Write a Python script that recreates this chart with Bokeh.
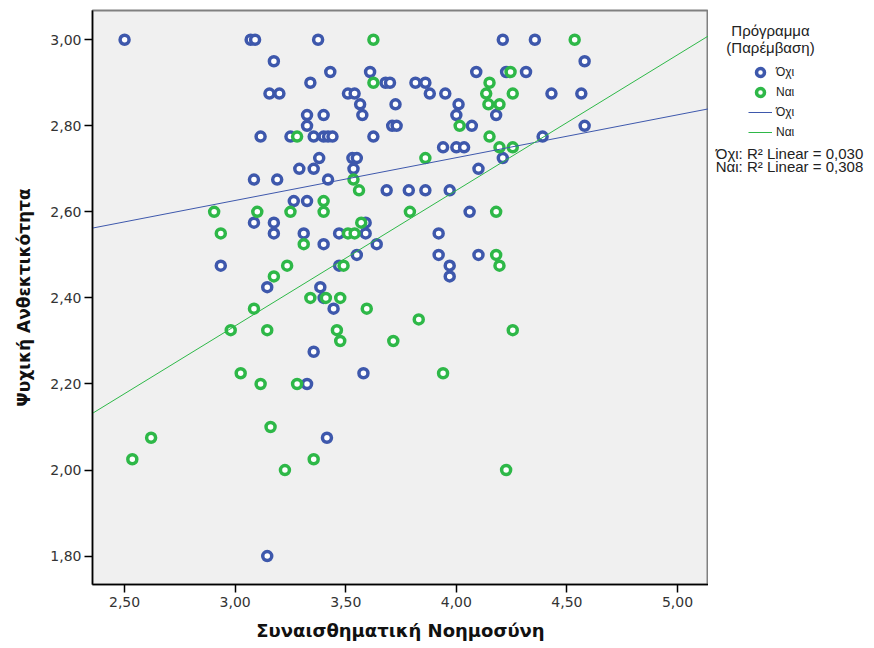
from bokeh.plotting import figure
from bokeh.layouts import row
from bokeh.models import (FixedTicker, CustomJSTickFormatter, Legend, LegendItem, Label)
from bokeh.embed import file_html
from bokeh.resources import INLINE

# ---- data ----
no_x = [2.50, 3.07, 3.09, 3.375, 4.21, 4.355,
        3.175, 4.58,
        3.43, 3.61, 4.09, 4.225, 4.315,
        3.34, 3.68, 3.70, 3.815, 3.86,
        3.155, 3.20, 3.51, 3.54, 3.88, 3.95, 4.43, 4.565,
        3.565, 3.725, 4.01,
        3.325, 3.40, 3.575, 4.00, 4.18,
        3.325, 3.71, 3.73, 4.07, 4.58,
        3.115, 3.25, 3.355, 3.40, 3.42, 3.44, 3.625, 4.39,
        3.94, 4.00, 4.035,
        3.38, 3.53, 3.55, 4.21,
        3.29, 3.355, 3.535, 4.10,
        3.085, 3.19, 3.42,
        3.685, 3.785, 3.86, 3.97,
        3.265, 3.325,
        4.06,
        3.085, 3.175, 3.59,
        3.175, 3.31, 3.47, 3.59, 3.92,
        3.40, 3.64,
        3.55, 3.92, 4.10,
        2.935, 3.47, 3.97,
        3.97,
        3.145, 3.385,
        3.40,
        3.445,
        3.355,
        3.58,
        3.325,
        3.415,
        3.145]
no_y = [3.00] * 6 + [2.95] * 2 + [2.925] * 5 + [2.90] * 5 + [2.875] * 8 + \
       [2.85] * 3 + [2.825] * 5 + [2.80] * 5 + [2.775] * 8 + [2.75] * 3 + \
       [2.725] * 4 + [2.70] * 4 + [2.675] * 3 + [2.65] * 4 + [2.625] * 2 + \
       [2.60] * 1 + [2.575] * 3 + [2.55] * 5 + [2.525] * 2 + [2.50] * 3 + \
       [2.475] * 3 + [2.45] * 1 + [2.425] * 2 + [2.40] * 1 + [2.375] * 1 + \
       [2.275] * 1 + [2.225] * 1 + [2.20] * 1 + [2.075] * 1 + [1.80] * 1

yes_x = [3.625, 4.535,
         4.245,
         3.625, 4.15,
         4.135, 4.255,
         4.145, 4.195,
         4.015,
         3.28, 4.15,
         4.195, 4.255,
         3.86,
         3.535,
         3.56,
         3.40,
         2.905, 3.10, 3.25, 3.40, 3.79, 4.18,
         3.57,
         2.935, 3.51, 3.54,
         3.31,
         4.18,
         3.235, 3.49, 4.195,
         3.175,
         3.34, 3.41, 3.475,
         3.085, 3.595,
         3.83,
         2.98, 3.145, 3.46, 4.255,
         3.475, 3.715,
         3.025, 3.94,
         3.115, 3.28,
         3.16,
         2.62,
         2.535, 3.355,
         3.225, 4.225]
yes_y = [3.00] * 2 + [2.925] * 1 + [2.90] * 2 + [2.875] * 2 + [2.85] * 2 + \
        [2.80] * 1 + [2.775] * 2 + [2.75] * 2 + [2.725] * 1 + [2.675] * 1 + \
        [2.65] * 1 + [2.625] * 1 + [2.60] * 6 + [2.575] * 1 + [2.55] * 3 + \
        [2.525] * 1 + [2.50] * 1 + [2.475] * 3 + [2.45] * 1 + [2.40] * 3 + \
        [2.375] * 2 + [2.35] * 1 + [2.325] * 4 + [2.30] * 2 + [2.225] * 2 + \
        [2.20] * 2 + [2.10] * 1 + [2.075] * 1 + [2.025] * 2 + [2.00] * 2

groups = ["Όχι", "Ναι"]
fit_gradient = [0.0995, 0.315]
fit_intercept = [2.328, 1.390]
r_squared = [0.030, 0.308]

x_ticks = [2.50, 3.00, 3.50, 4.00, 4.50, 5.00]
y_ticks = [1.80, 2.00, 2.20, 2.40, 2.60, 2.80, 3.00]

x_title = "Συναισθηματική Νοημοσύνη"
y_title = "Ψυχική Ανθεκτικότητα"
legend_title = ["Πρόγραμμα", "(Παρέμβαση)"]

# ---- styling ----
BLUE = "#3e58ac"
GREEN = "#2eb848"
FONT = "Liberation Sans"
X_LO, X_HI = 2.355, 5.14
Y_LO, Y_HI = 1.734, 3.068
H = 646
TOP = 10
FH = 574
BOT = H - TOP - FH
NAN = float("nan")

p = figure(frame_width=616, frame_height=FH,
           min_border_left=92, min_border_right=0,
           min_border_top=TOP, min_border_bottom=BOT,
           x_range=(X_LO, X_HI), y_range=(Y_LO, Y_HI),
           output_backend="svg", toolbar_location=None)

p.background_fill_color = "#f0f0f0"
p.border_fill_color = "white"
p.outline_line_color = "#808080"
p.outline_line_width = 2
p.grid.visible = False

fmt = "return tick.toFixed(2).replace('.', ',');"
for ax in (p.xaxis[0], p.yaxis[0]):
    ax.formatter = CustomJSTickFormatter(code=fmt)
    ax.minor_tick_line_color = None
    ax.major_tick_in = 0
    ax.major_tick_out = 8
    ax.major_tick_line_color = "black"
    ax.major_tick_line_width = 1.5
    ax.axis_line_color = "black"
    ax.axis_line_width = 1.5
    ax.major_label_text_font = "DejaVu Sans"
    ax.major_label_text_font_size = "14px"
    ax.major_label_text_color = "#333333"
    ax.axis_label_text_font = "DejaVu Sans"
    ax.axis_label_text_font_style = "bold"
    ax.axis_label_text_color = "#111111"

p.xaxis[0].ticker = FixedTicker(ticks=x_ticks)
p.yaxis[0].ticker = FixedTicker(ticks=y_ticks)
p.xaxis[0].axis_label = x_title
p.yaxis[0].axis_label = y_title
p.xaxis[0].axis_label_text_font_size = "18px"
p.yaxis[0].axis_label_text_font_size = "17px"
p.xaxis[0].major_label_standoff = 4
p.xaxis[0].axis_label_standoff = 10
p.yaxis[0].major_label_standoff = 3
p.yaxis[0].axis_label_standoff = 13

colors = [BLUE, GREEN]
xs_list = [no_x, yes_x]
ys_list = [no_y, yes_y]

for xs, ys, c in zip(xs_list, ys_list, colors):
    p.scatter(xs, ys, marker="circle", size=9, line_width=3.5,
              line_color=c, fill_color="white")

for g, b, c in zip(fit_gradient, fit_intercept, colors):
    lx = [X_LO, X_HI]
    ly = [b + g * v for v in lx]
    p.line(lx, ly, line_color=c, line_width=1)

# ---- legend panel (frame bottom aligned with the plot frame bottom) ----
lg = figure(width=164, height=H, x_range=(0, 1), y_range=(0, 1),
            min_border_left=0, min_border_right=0,
            min_border_top=TOP, min_border_bottom=BOT,
            x_axis_location=None, y_axis_location=None,
            output_backend="svg", toolbar_location=None)
lg.outline_line_color = None
lg.grid.visible = False
lg.background_fill_color = "white"
lg.border_fill_color = "white"

FB = TOP + FH  # frame bottom in page pixels

# legend-only renderers (NaN data: nothing is drawn in the panel itself)
leg_scatter = [lg.scatter(x=[NAN], y=[NAN], marker="circle", size=9, line_width=3.5,
                          line_color=c, fill_color="white") for c in colors]
leg_line = [lg.line(x=[NAN, NAN], y=[NAN, NAN], line_color=c, line_width=1)
            for c in colors]

legend = Legend(items=[LegendItem(label=groups[0], renderers=[leg_scatter[0]]),
                       LegendItem(label=groups[1], renderers=[leg_scatter[1]]),
                       LegendItem(label=groups[0], renderers=[leg_line[0]]),
                       LegendItem(label=groups[1], renderers=[leg_line[1]])],
                location=(40, FB - 142), padding=0, margin=0, spacing=0,
                glyph_width=24, glyph_height=20, label_height=14,
                label_standoff=4, label_text_font=FONT,
                label_text_font_size="12px", label_text_color="#222222",
                background_fill_alpha=0, border_line_alpha=0)
lg.add_layout(legend)

for i, t in enumerate(legend_title):
    lg.add_layout(Label(x=62, y=FB - 30 - 17 * i, x_units="screen", y_units="screen",
                        text=t, text_align="center", text_baseline="middle",
                        text_font=FONT, text_font_size="15px",
                        text_color="#222222"))

for i, (g, r2) in enumerate(zip(groups, r_squared)):
    txt = f"{g}: R² Linear = {r2:.3f}".replace(".", ",")
    lg.add_layout(Label(x=81, y=FB - 153 - 13 * i, x_units="screen", y_units="screen",
                        text=txt, text_align="center", text_baseline="middle",
                        text_font=FONT, text_font_size="15px",
                        text_color="#222222"))

layout = row(p, lg, spacing=0)
open("out.html", "w").write(file_html(layout, INLINE))
